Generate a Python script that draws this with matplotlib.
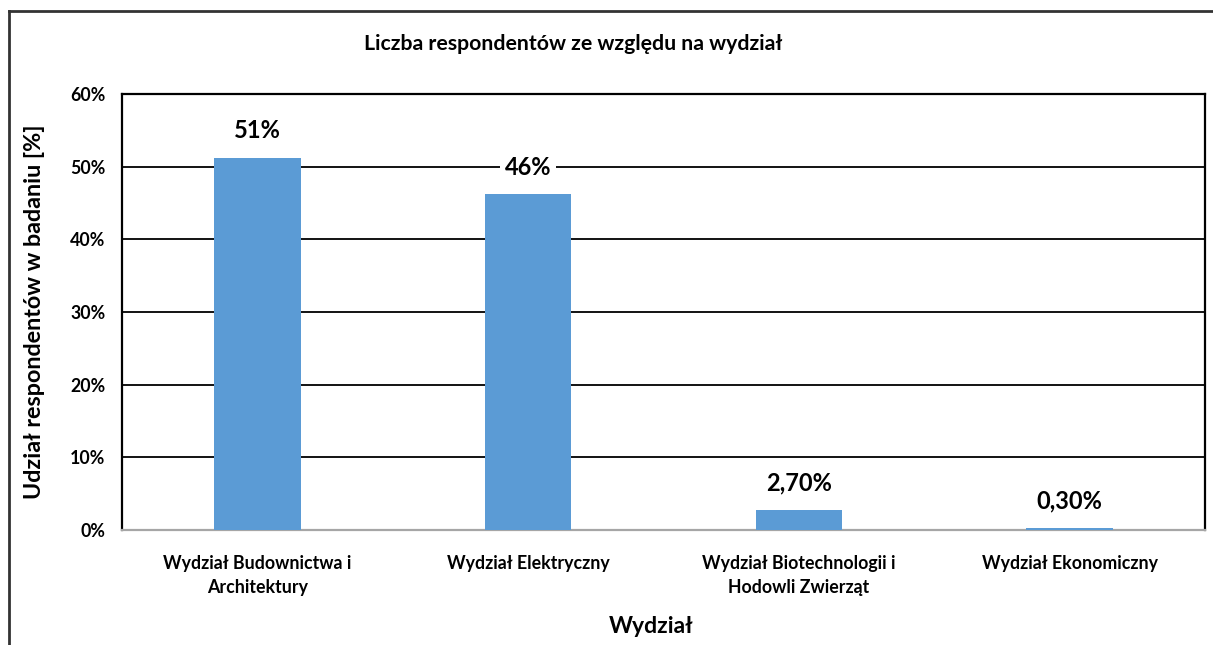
import matplotlib.pyplot as plt
from matplotlib.lines import Line2D

plt.rcParams['font.family'] = ['Lato', 'DejaVu Sans']
plt.rcParams['font.weight'] = 'bold'

wydzialy = ["Wydział Budownictwa i\nArchitektury", "Wydział Elektryczny",
            "Wydział Biotechnologii i\nHodowli Zwierząt", "Wydział Ekonomiczny"]
udzial = [0.512, 0.462, 0.027, 0.003]
etykiety = ["51%", "46%", "2,70%", "0,30%"]
yticks = [0, 0.1, 0.2, 0.3, 0.4, 0.5, 0.6]

fig = plt.figure(figsize=(12.13, 6.45), dpi=100)
ax = fig.add_axes([122/1213, 1-530/645, 1083/1213, 436/645])

x = range(len(wydzialy))
ax.bar(x, udzial, width=0.32, color='#5B9BD5', zorder=3)

for i, (v, t) in enumerate(zip(udzial, etykiety)):
    ax.annotate(t, (i, v), xytext=(0, 27), textcoords='offset pixels',
                ha='center', va='center', fontsize=17, fontweight='bold',
                bbox=dict(boxstyle='square,pad=0.2', fc='white', ec='none'),
                zorder=5)

ax.set_xlim(-0.5, 3.5)
ax.set_ylim(0, 0.6)
ax.set_yticks(yticks)
ax.set_yticklabels([f"{int(round(t*100))}%" for t in yticks])
ax.set_xticks(list(x))
ax.set_xticklabels(wydzialy, fontsize=12.8, fontweight='bold', linespacing=1.5)
ax.tick_params(axis='y', length=0, pad=12, labelsize=12.8)
ax.tick_params(axis='x', length=0, pad=18)
ax.grid(axis='y', color='black', linewidth=1.3, zorder=1)
ax.set_axisbelow(True)

for s in ['left', 'top', 'right']:
    ax.spines[s].set_color('black')
    ax.spines[s].set_linewidth(1.6)
ax.spines['bottom'].set_color('#A6A6A6')
ax.spines['bottom'].set_linewidth(1.6)

ax.set_ylabel("Udział respondentów w badaniu [%]", fontsize=16.8, fontweight='bold')
ax.yaxis.set_label_coords(-0.071, 0.5)
ax.set_xlabel("Wydział", fontsize=16.5, fontweight='bold')
ax.xaxis.set_label_coords(0.489, -0.198)

fig.text(573/1213, 1-44/645, "Liczba respondentów ze względu na wydział",
         ha='center', va='center', fontsize=15.3, fontweight='bold')

# ramka wykresu
fig.add_artist(Line2D([9/1213, 9/1213], [0, 1-11/645], transform=fig.transFigure,
                      color='#333333', linewidth=2))
fig.add_artist(Line2D([9/1213, 1], [1-11/645, 1-11/645], transform=fig.transFigure,
                      color='#333333', linewidth=2))

fig.savefig("out.png", dpi=100)
